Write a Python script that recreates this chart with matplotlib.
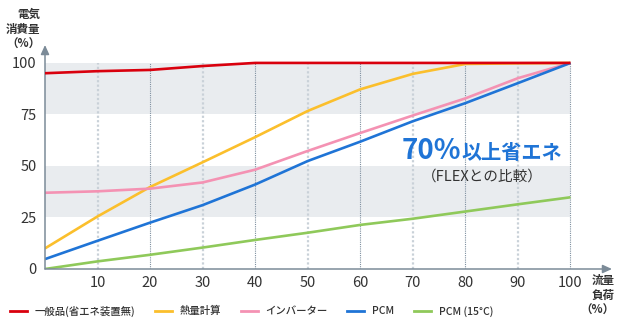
import matplotlib
matplotlib.use("Agg")
import matplotlib.pyplot as plt
from matplotlib.lines import Line2D

plt.rcParams['font.family'] = ['Noto Sans CJK JP', 'DejaVu Sans']

# ---- data ----
load = [0, 10, 20, 30, 40, 50, 60, 70, 80, 90, 100]
general = [95, 96, 96.6, 98.5, 100, 100, 100, 100, 100, 100, 100]
heat_calc = [10, 25.5, 39.8, 51.8, 64, 76.7, 87.2, 94.7, 99.5, 99.8, 100]
inverter = [37, 37.7, 39, 42, 48.2, 57.3, 66, 74.5, 82.8, 92.6, 100]
pcm = [4.8, 13.7, 22.5, 31, 41, 52.4, 61.8, 71.7, 80.5, 90.2, 100]
pcm15 = [0, 3.7, 6.9, 10.4, 14.1, 17.6, 21.4, 24.4, 27.9, 31.4, 34.8]

series_names = ['一般品(省エネ装置無)', '熱量計算', 'インバーター', 'PCM', 'PCM (15°C)']
series_values = [general, heat_calc, inverter, pcm, pcm15]
colors = ['#d9000d', '#fbbf2c', '#f492b3', '#1f74d6', '#8fc95a']

yticks = [0, 25, 50, 75, 100]
xticks = [10, 20, 30, 40, 50, 60, 70, 80, 90, 100]
bands = [(25, 50), (75, 100)]

axis_col = '#7c8b98'
text_col = '#333333'

fig = plt.figure(figsize=(6.2, 3.31), dpi=100)
ax = fig.add_axes([45 / 620, 62 / 331, 567 / 620, 224 / 331])
ax.set_xlim(0, 107.9)
ax.set_ylim(0, 108.7)

for lo, hi in bands:
    ax.fill_between([0, 100], lo, hi, color='#e9ecef', lw=0, zorder=0)

for i, x in enumerate(xticks):
    if i % 2 == 0:
        ax.vlines(x, 0, 100, color='#c9d1d8', lw=1.6, linestyles=(0, (1, 1)), zorder=1)
    else:
        ax.vlines(x, 0, 100, color='#7f90a0', lw=0.8, linestyles=(0, (1, 1)), zorder=1)

handles = []
for name, vals, c in zip(series_names, series_values, colors):
    ax.plot(load, vals, color=c, lw=1.9, zorder=3, solid_capstyle='butt')
    handles.append(Line2D([], [], color=c, lw=2, label=name))
ax.lines[0].set_zorder(4)

for s in ax.spines.values():
    s.set_visible(False)
ax.annotate('', xy=(1, 0), xytext=(0, 0), xycoords='axes fraction',
            arrowprops=dict(arrowstyle='-|>,head_length=0.55,head_width=0.25',
                            color=axis_col, lw=1.1, shrinkA=0, shrinkB=0))
ax.annotate('', xy=(0, 1), xytext=(0, 0), xycoords='axes fraction',
            arrowprops=dict(arrowstyle='-|>,head_length=0.55,head_width=0.25',
                            color=axis_col, lw=1.1, shrinkA=0, shrinkB=0))

ax.set_yticks(yticks)
ax.set_yticklabels([str(v) for v in yticks])
ax.set_xticks(xticks)
ax.set_xticklabels([str(v) for v in xticks])
ax.tick_params(length=0, labelsize=10.5, labelcolor=text_col)
ax.tick_params(axis='y', pad=6)
ax.tick_params(axis='x', pad=5)

fig.text(40 / 620, 1 - 8 / 331, '電気\n消費量\n（%）', ha='right', va='top',
         fontsize=8.3, fontweight='bold', color=text_col, linespacing=1.2,
         multialignment='right')
fig.text(615 / 620, 1 - 274 / 331, '流量\n負荷\n（%）', ha='right', va='top',
         fontsize=8.3, fontweight='bold', color=text_col, linespacing=1.2,
         multialignment='right')

ax.annotate('70%', xy=(67.8, 57.5), xycoords='data', ha='left', va='center',
            fontsize=20, fontweight='bold', color='#1f74d6')
ax.annotate('以上省エネ', xy=(79.2, 56.6), xycoords='data', ha='left', va='center',
            fontsize=14.5, fontweight='bold', color='#1f74d6')
ax.annotate('（FLEXとの比較）', xy=(83.2, 44.7), xycoords='data', ha='center', va='center',
            fontsize=10.5, color=text_col)

leg = fig.legend(handles=handles, loc='center left', bbox_to_anchor=(10 / 620, 1 - 311 / 331),
                 ncol=5, frameon=False, prop={'size': 7.5, 'weight': 'medium'},
                 handlelength=1.65, handletextpad=0.75,
                 columnspacing=1.85, borderaxespad=0, borderpad=0)
for t in leg.get_texts():
    t.set_color(text_col)

fig.savefig('out.png', dpi=100)
